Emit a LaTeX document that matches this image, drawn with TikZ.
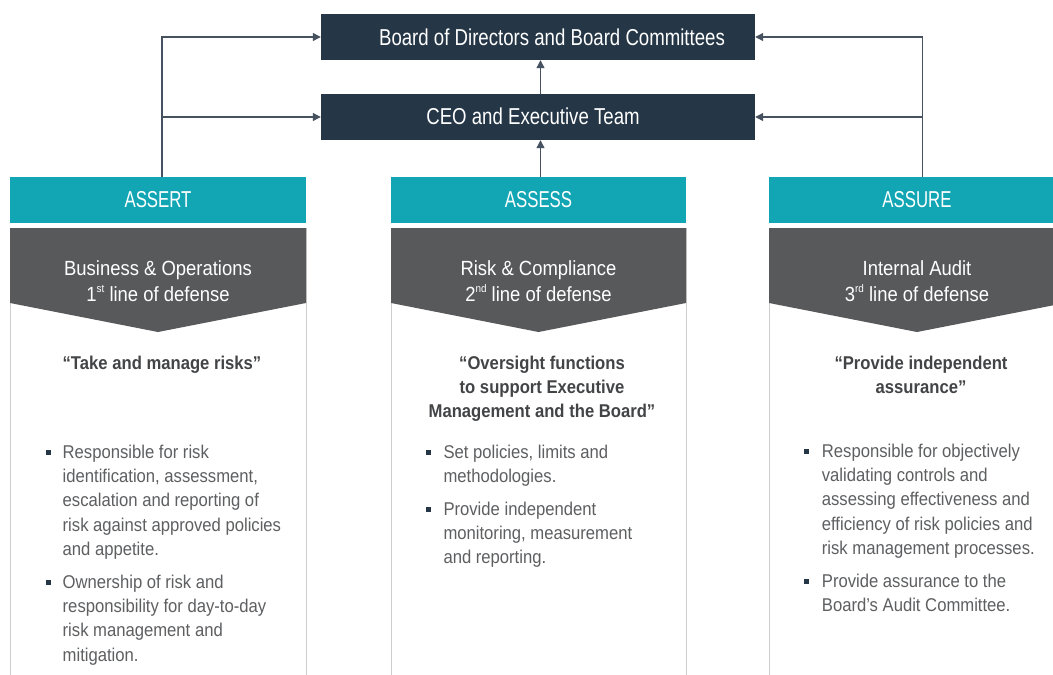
\documentclass[tikz,border=0pt]{standalone}
\usepackage{fontspec}
\setmainfont{Liberation Sans}
\newfontfamily\myTitle[FakeStretch=0.81]{Liberation Sans}
\newfontfamily\myCaps[FakeStretch=0.73]{Liberation Sans}
\newfontfamily\myBody[FakeStretch=0.9]{Liberation Sans}
\usetikzlibrary{arrows.meta,calc}
\definecolor{cNavy}{HTML}{253646}
\definecolor{cTeal}{HTML}{12A6B5}
\definecolor{cGray}{HTML}{58595B}
\definecolor{cLine}{HTML}{46525F}
\definecolor{cBorder}{HTML}{CDCDCD}
\definecolor{cQuote}{HTML}{434446}
\definecolor{cText}{HTML}{5E5F61}
\newcommand\myStrut{\rule{0pt}{18pt}}
\newcommand\mySup[1]{\raisebox{0.42em}{\fontsize{11}{11}\selectfont #1}}
\begin{document}
\begin{tikzpicture}[x=1pt,y=-1pt,
  navybox/.style={fill=cNavy, draw=none, minimum width=434pt, minimum height=46pt, inner sep=0pt},
  navytext/.style={text=white, font=\myTitle\fontsize{23}{26}\selectfont, inner sep=0pt, anchor=base},
  tealbox/.style={fill=cTeal, draw=none, minimum width=296pt, minimum height=46pt, inner sep=0pt, text=white, font=\myCaps\fontsize{23}{26}\selectfont},
  chevtext/.style={text=white, font=\myBody\fontsize{20.5}{26}\selectfont, align=center, inner sep=0pt, anchor=north},
  quotetext/.style={text=cQuote, font=\myBody\bfseries\fontsize{18.5}{24.3}\selectfont, align=center, inner sep=0pt, anchor=north},
  btext/.style={text=cText, font=\myBody\fontsize{18.5}{24.3}\selectfont, align=left, inner sep=0pt, anchor=north west},
  bul/.style={fill=cNavy, draw=none, minimum width=5pt, minimum height=5pt, inner sep=0pt},
  panel/.style={draw=cBorder, line width=1pt, fill=white},
  conn/.style={draw=cLine, line width=1.2pt, -{Triangle[length=8pt,width=8pt]}}
]
\useasboundingbox (0,0) rectangle (1053,675);
\fill[white] (0,0) rectangle (1053,675);

% panels
\draw[panel] (10,228) rectangle (306,690);
\draw[panel] (391,228) rectangle (686,690);
\draw[panel] (769,228) rectangle (1065,690);

% chevrons
\fill[cGray] (10,228) -- (306,228) -- (306,303) -- (158,332) -- (10,303) -- cycle;
\fill[cGray] (391,228) -- (686,228) -- (686,303) -- (538.5,332) -- (391,303) -- cycle;
\fill[cGray] (769,228) -- (1065,228) -- (1065,303) -- (917,332) -- (769,303) -- cycle;

% headers
\node[tealbox] (assert) at (158,200) {ASSERT};
\node[tealbox, minimum width=295pt] (assess) at (538.5,200) {ASSESS};
\node[tealbox] (assure) at (917,200) {ASSURE};

% top boxes
\node[navybox] (board) at (538,37) {};
\node[navytext] (boardtxt) at (552,45) {Board of Directors and Board Committees};
\node[navybox] (ceo) at (538,117) {};
\node[navytext] (ceotxt) at (533,124) {CEO and Executive Team};

% chevron titles
\node[chevtext] (t1) at (158,257) {\myStrut Business \& Operations\\1\mySup{st} line of defense};
\node[chevtext] (t2) at (538.5,257) {\myStrut Risk \& Compliance\\2\mySup{nd} line of defense};
\node[chevtext] (t3) at (917,257) {\myStrut Internal Audit\\3\mySup{rd} line of defense};

% quotes
\node[quotetext] (q1) at (162,351) {\myStrut “Take and manage risks”};
\node[quotetext] (q2) at (542,351) {\myStrut “Oversight functions\\to support Executive\\Management and the Board”};
\node[quotetext] (q3) at (921,351) {\myStrut “Provide independent\\assurance”};

% bullets left
\node[bul] (l1b) at (48,452) {};
\node[btext] (l1) at (62.5,440) {\myStrut Responsible for risk\\identification, assessment,\\escalation and reporting of\\risk against approved policies\\and appetite.};
\node[bul] (l2b) at (48,582) {};
\node[btext] (l2) at (62.5,570) {\myStrut Ownership of risk and\\responsibility for day-to-day\\risk management and\\mitigation.};

% bullets middle
\node[bul] (m1b) at (428.3,452) {};
\node[btext] (m1) at (443.3,440) {\myStrut Set policies, limits and\\methodologies.};
\node[bul] (m2b) at (428.3,509) {};
\node[btext] (m2) at (443.3,497) {\myStrut Provide independent\\monitoring, measurement\\and reporting.};

% bullets right
\node[bul] (r1b) at (806.7,451) {};
\node[btext] (r1) at (821.7,439) {\myStrut Responsible for objectively\\validating controls and\\assessing effectiveness and\\efficiency of risk policies and\\risk management processes.};
\node[bul] (r2b) at (806.7,581) {};
\node[btext] (r2) at (821.7,569) {\myStrut Provide assurance to the\\Board’s Audit Committee.};

% connectors
\coordinate (lj) at ([xshift=4pt]assert.north);
\draw[conn] (lj) |- (board.west);
\draw[conn] (lj |- ceo.west) -- (ceo.west);
\coordinate (rj) at ([xshift=5.7pt]assure.north);
\draw[conn] (rj) |- (board.east);
\draw[conn] (rj |- ceo.east) -- (ceo.east);
\coordinate (mj) at ([xshift=2pt]assess.north);
\draw[conn] (mj) -- (mj |- ceo.south);
\draw[conn] ([xshift=2.5pt]ceo.north) -- ([xshift=2.5pt]board.south);
\end{tikzpicture}
\end{document}
